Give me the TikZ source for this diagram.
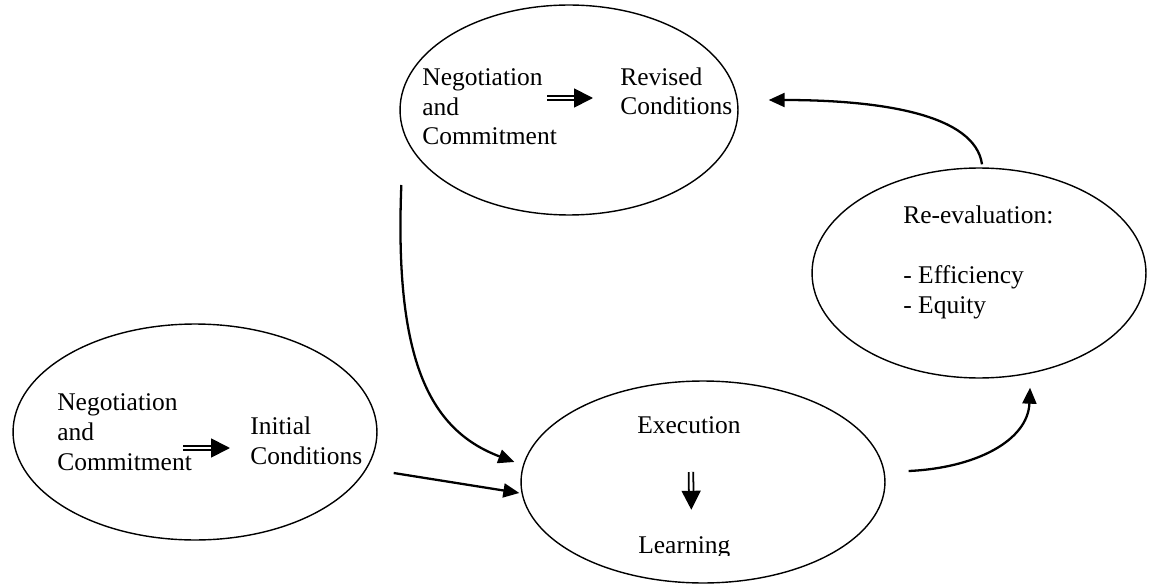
\documentclass[tikz,border=0pt]{standalone}
\usepackage{fontspec}
\setmainfont{Liberation Serif}
\usetikzlibrary{arrows.meta, shapes.geometric}

\begin{document}
\begin{tikzpicture}[x=0.02cm, y=0.02cm,
  oval/.style={draw, ellipse, line width=0.8pt, inner sep=0pt},
  txt/.style={font=\fontsize{14.5}{17}\selectfont, align=left, inner sep=0pt, anchor=base west},
  flow/.style={line width=1.3pt, -{Triangle[length=3.2mm, width=2.8mm]}},
  dblarrow/.style={line width=1pt, double distance=1.6pt, -{Triangle[length=3.8mm, width=3.8mm]}}
]

  \useasboundingbox (0,0) rectangle (1149,-584);

  % === Ellipses
  \node[oval, minimum width=6.76cm, minimum height=4.2cm] (ovTop) at (569,-110) {};
  \node[oval, minimum width=7.28cm, minimum height=4.32cm] (ovLeft) at (195,-432) {};
  \node[oval, minimum width=6.68cm, minimum height=4.2cm] (ovRight) at (979,-273) {};
  \node[oval, minimum width=7.28cm, minimum height=4.04cm] (ovBottom) at (703,-482) {};

  % === Texts (base = last line)
  \node[txt] (negA) at (422,-145) {Negotiation\\and\\Commitment};
  \node[txt] (revA) at (620,-115) {Revised\\Conditions};
  \node[txt] (negB) at (57,-470) {Negotiation\\and\\Commitment};
  \node[txt] (initB) at (250,-464) {Initial\\Conditions};
  \node[txt] (reval) at (903,-313) {Re-evaluation:\\[17pt]- Efficiency\\- Equity};
  \node[txt] (exec) at (637,-433) {Execution};
  \begin{scope}
    \clip (600,-500) rectangle (800,-555);
    \node[txt] (learn) at (638,-553) {Learning};
  \end{scope}

  % Double arrows inside the ellipses
  \draw[dblarrow] ([shift={(-10,47)}]negA.base east) -- ([shift={(-27,17)}]revA.base west);
  \draw[dblarrow] ([shift={(-9,22)}]negB.base east) -- ([shift={(-20,16)}]initB.base west);
  \draw[dblarrow] ([shift={(2,-39)}]exec.base) -- ([shift={(7,26)}]learn.north);

  % === Cycle
  \draw[flow] ([shift={(2,-75)}]ovTop.west) .. controls +(-7,-175) and +(-85,32) .. ([shift={(-6,20)}]ovBottom.west);
  \draw[flow] ([shift={(16,-41)}]ovLeft.east) -- ([shift={(-1,-11)}]ovBottom.west);
  \draw[flow] ([shift={(23,11)}]ovBottom.east) .. controls +(67,3) and +(-2,-53) .. ([shift={(51,-9)}]ovRight.south);
  \draw[flow] ([shift={(3,3)}]ovRight.north) .. controls +(-7,50) and +(112,0) .. ([shift={(30,10)}]ovTop.east);

\end{tikzpicture}
\end{document}
